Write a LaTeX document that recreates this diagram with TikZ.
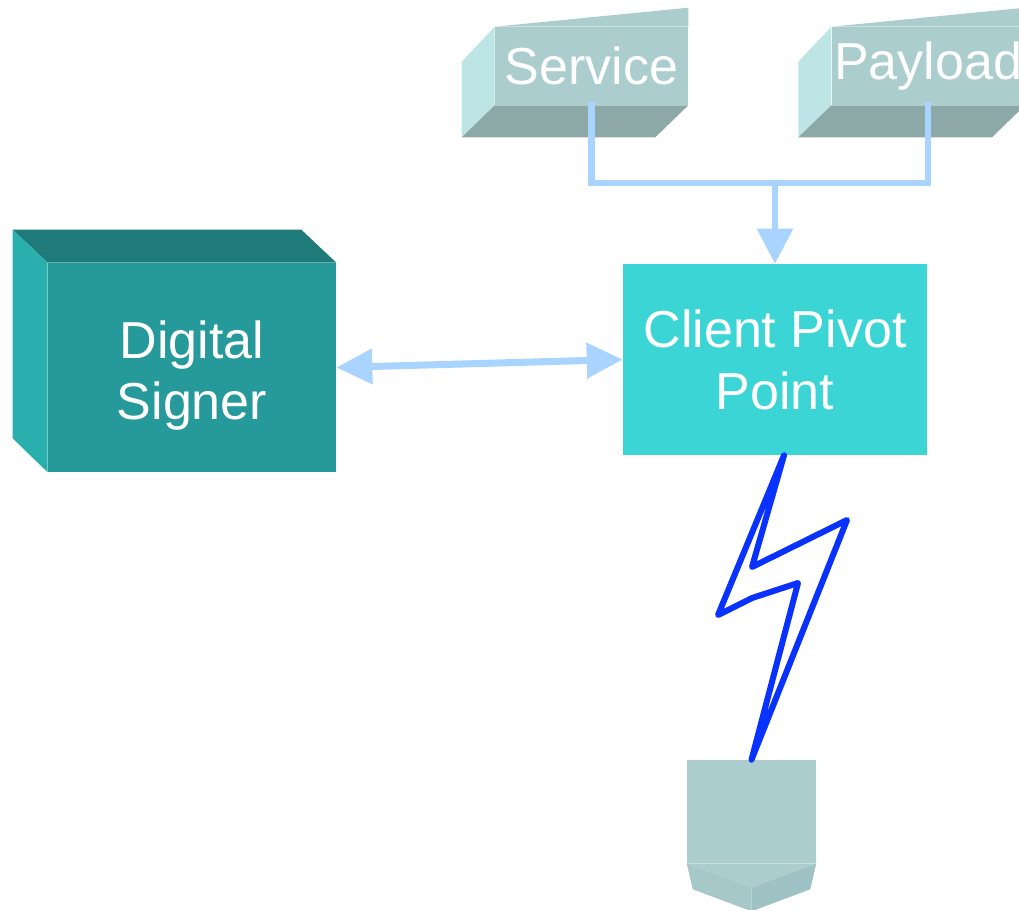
\documentclass[tikz,border=0pt]{standalone}
\usepackage{fontspec}
\setmainfont{Liberation Sans}
\usepackage{tikz}
\usetikzlibrary{arrows.meta, positioning, calc}
\definecolor{feedblue}{HTML}{A8D4FF}
\definecolor{pivotfill}{HTML}{3BD5D6}
\definecolor{signerfront}{HTML}{26999A}
\definecolor{signertop}{HTML}{1E7B7A}
\definecolor{signerside}{HTML}{2AAFAF}
\definecolor{slabfront}{HTML}{ABCDCE}
\definecolor{slabside}{HTML}{BEE5E5}
\definecolor{slabbottom}{HTML}{8CA9A8}
\definecolor{devicelow}{HTML}{9FC3C4}
\definecolor{boltblue}{HTML}{0A32FF}

\begin{document}
\begin{tikzpicture}[x=0.025cm, y=-0.025cm, >=Latex]
    \tikzstyle{face} = [rectangle, inner sep=0pt, text=white, font=\fontsize{37}{44}\selectfont, align=center]
    \tikzstyle{slab} = [face, fill=slabfront, minimum width=4.825cm, minimum height=1.95cm]
    \tikzstyle{feed} = [draw=feedblue, line width=4.3pt]
    \tikzstyle{bolt} = [draw=boltblue, line width=4.3pt, line join=round, line cap=round]

    \useasboundingbox (0,0) rectangle (1019,909);
    \clip (0,0) rectangle (1019,909);

    \node [face, fill=pivotfill, minimum width=7.6cm, minimum height=4.775cm] (client) at (775,359.5) {Client Pivot\\Point};
    \node [face, fill=signerfront, minimum width=7.2cm, minimum height=5.225cm, label={[face, yshift=-0.2cm]center:Digital\\Signer}] (signer) at (192,367.5) {};
    \node [slab] (service) at (591.5,66) {Service};
    \node [slab, right=3.575cm of service] (payload) {Payload};
    \node [face, fill=slabfront, minimum width=3.225cm, minimum height=2.575cm] (device) at (751.5,811.5) {};

    % box sides
    \fill [signertop] (signer.north west) -- ++(-35,-33) -- ($(signer.north east)+(-35,-33)$) -- (signer.north east) -- cycle;
    \fill [signerside] (signer.north west) -- ++(-35,-33) -- ($(signer.south west)+(-35,-34)$) -- (signer.south west) -- cycle;
    \foreach \s in {service, payload} {
        \fill [slabfront] (\s.north west) -- ($(\s.north east)+(0,-19)$) -- (\s.north east) -- cycle;
        \fill [slabside] (\s.north west) -- ++(-33,35) -- ($(\s.south west)+(-33,32)$) -- (\s.south west) -- cycle;
        \fill [slabbottom] (\s.south west) -- (\s.south east) -- ++(-33,32) -- ($(\s.south west)+(-33,32)$) -- cycle;
    }
    \fill [slabfront] (device.south west) -- ($(device.south)+(0,24)$) -- (device.south east) -- cycle;
    \fill [devicelow!92!white] (device.south west) -- ($(device.south)+(0,24)$) -- ++(0,24) -- ($(device.south west)+(6,26)$) -- cycle;
    \fill [devicelow] (device.south east) -- ($(device.south)+(0,24)$) -- ++(0,24) -- ($(device.south east)+(-6,26)$) -- cycle;

    % connectors
    \coordinate (join) at (775,183);
    \path [feed, line cap=rect] (service.south) |- (join) -| (payload.south);
    \path [feed, -{Triangle[length=0.875cm, width=0.875cm]}] (join) -- (client.north);
    \path [feed, line width=5pt, {Triangle[length=0.9cm, width=0.85cm]}-{Triangle[length=0.9cm, width=0.85cm]}] (signer.east) -- (client.west);

    % radio link
    \path [bolt] ([xshift=0.225cm]client.south) -- (752,567) -- (847,520) -- (device.north) -- (798,583) -- (752,598) -- (718,615) -- cycle;
\end{tikzpicture}
\end{document}
